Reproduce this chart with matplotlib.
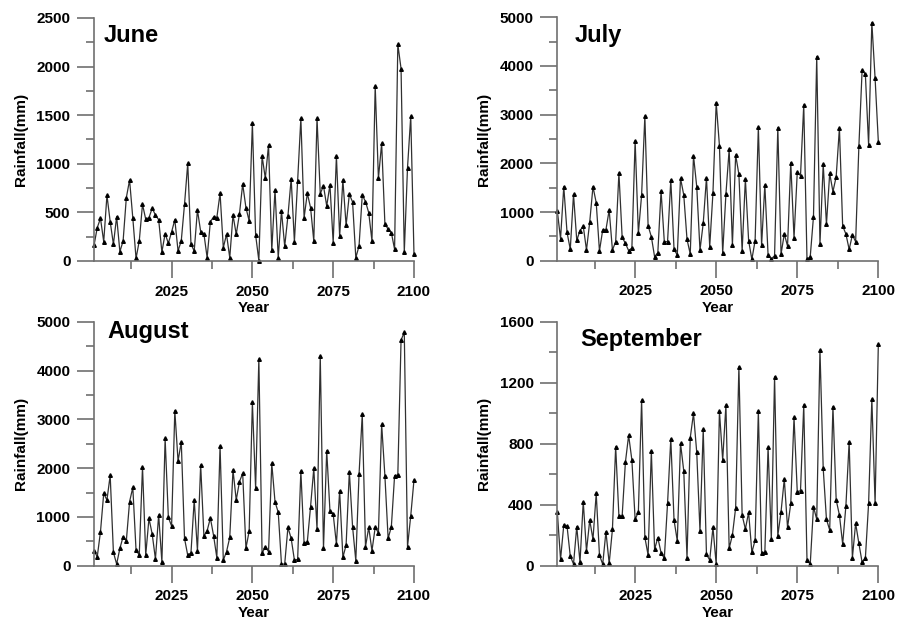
import numpy as np
import matplotlib
matplotlib.use("Agg")
from matplotlib import pyplot as plt
from matplotlib.ticker import MultipleLocator

plt.rcParams['font.family'] = ['Liberation Sans', 'DejaVu Sans']
plt.rcParams['font.weight'] = 'bold'

years = np.arange(2001, 2101)

june = [161, 343, 439, 199, 676, 405, 172, 456, 96, 206,
        652, 833, 442, 27, 206, 583, 429, 446, 542, 473,
        425, 93, 281, 182, 298, 425, 103, 209, 583, 1005,
        172, 103, 525, 302, 281, 34, 405, 453, 446, 696,
        137, 274, 34, 473, 274, 484, 792, 549, 412, 1417,
        268, 5, 1080, 851, 1194, 110, 731, 34, 515, 151,
        463, 847, 199, 823, 1468, 446, 696, 549, 206, 1468,
        693, 772, 566, 782, 189, 1080, 254, 833, 367, 686,
        607, 34, 154, 679, 611, 497, 206, 1801, 851, 1211,
        384, 326, 292, 120, 2230, 1979, 89, 960, 1489, 72]

july = [1021, 452, 1521, 582, 233, 1363, 418, 617, 712, 219,
        795, 1521, 1192, 199, 630, 637, 1041, 219, 390, 1802,
        480, 356, 206, 260, 2466, 562, 1349, 2973, 719, 493,
        82, 164, 1432, 390, 390, 1658, 233, 116, 1692, 1349,
        438, 137, 2158, 1521, 219, 767, 1706, 288, 1397, 3247,
        2363, 151, 1370, 2288, 322, 2171, 1774, 199, 1678, 411,
        27, 411, 2747, 315, 1555, 116, 34, 103, 2733, 137,
        548, 301, 2014, 466, 1815, 1747, 3199, 27, 82, 904,
        4192, 342, 1987, 747, 1795, 1418, 1726, 2726, 712, 548,
        233, 527, 390, 2350, 3918, 3829, 2377, 4891, 3747, 2445]

august = [307, 184, 697, 1482, 1346, 1851, 273, 34, 355, 594,
          512, 1311, 1605, 321, 219, 2022, 219, 970, 649, 137,
          1038, 75, 2609, 990, 813, 3176, 2145, 2534, 560, 212,
          266, 1346, 307, 2063, 608, 717, 977, 615, 164, 2452,
          116, 287, 581, 1960, 1346, 1721, 1892, 360, 705, 3347,
          1585, 4235, 253, 389, 287, 2097, 1311, 1093, 34, 34,
          785, 560, 116, 130, 1940, 458, 492, 1209, 1994, 744,
          4303, 355, 2356, 1120, 1059, 444, 1530, 171, 423, 1926,
          799, 102, 1871, 3108, 389, 785, 307, 785, 676, 2896,
          1844, 560, 799, 1844, 1858, 4624, 4781, 389, 1024, 1755]

september = [354, 42, 267, 260, 63, 11, 256, 22, 420, 96,
             299, 173, 474, 70, 9, 223, 15, 238, 780, 326,
             326, 678, 855, 693, 304, 352, 1086, 186, 70, 752,
             107, 184, 85, 48, 409, 831, 299, 162, 802, 621,
             52, 839, 999, 743, 227, 894, 74, 37, 251, 9,
             1014, 693, 1054, 114, 201, 380, 1305, 332, 240, 350,
             87, 168, 1016, 85, 87, 776, 173, 1239, 197, 354,
             568, 251, 409, 973, 485, 492, 1054, 37, 9, 387,
             304, 1414, 638, 304, 234, 1043, 431, 332, 142, 393,
             813, 52, 278, 146, 22, 48, 409, 1093, 409, 1454]

# (name, values, y top, major step, minor step, axes rect, title x, title y)
panels = [
    ('June', june, 2500, 500, 250, [0.1047, 0.5804, 0.3563, 0.3907], 0.031, 0.90),
    ('July', july, 5000, 1000, 500, [0.6206, 0.5809, 0.3575, 0.3913], 0.055, 0.90),
    ('August', august, 5000, 1000, 500, [0.1047, 0.0905, 0.3563, 0.3923], 0.043, 0.935),
    ('September', september, 1600, 400, 200, [0.6206, 0.0905, 0.3575, 0.3923], 0.071, 0.90),
]

spine_col = '#707070'

fig = plt.figure(figsize=(8.98, 6.22), dpi=100)
for name, vals, top, major, minor, rect, tx, ty in panels:
    ax = fig.add_axes(rect)
    ax.plot(years, vals, '-', color='#303030', lw=0.9, marker='^', ms=2.6,
            mfc='black', mec='black', clip_on=False)
    ax.set_xlim(2001, 2100)
    ax.set_ylim(0, top)
    ax.set_xticks([2025, 2050, 2075, 2100])
    ax.xaxis.set_minor_locator(MultipleLocator(12.5))
    ax.yaxis.set_major_locator(MultipleLocator(major))
    ax.yaxis.set_minor_locator(MultipleLocator(minor))
    for s in ['top', 'right']:
        ax.spines[s].set_visible(False)
    for s in ['left', 'bottom']:
        ax.spines[s].set_color(spine_col)
        ax.spines[s].set_linewidth(1.2)
    ax.tick_params(which='major', length=12, width=1.2, color=spine_col,
                   labelsize=11, pad=5)
    ax.tick_params(which='minor', length=6, width=1.2, color=spine_col)
    for lab in ax.get_xticklabels() + ax.get_yticklabels():
        lab.set_fontweight('bold')
    ax.set_xlabel('Year', fontsize=11, fontweight='bold', labelpad=2)
    ax.set_ylabel('Rainfall(mm)', fontsize=11, fontweight='bold', labelpad=6)
    ax.text(tx, ty, name, transform=ax.transAxes, fontsize=17,
            fontweight='bold', va='baseline', ha='left')

plt.savefig('out.png', dpi=100)
